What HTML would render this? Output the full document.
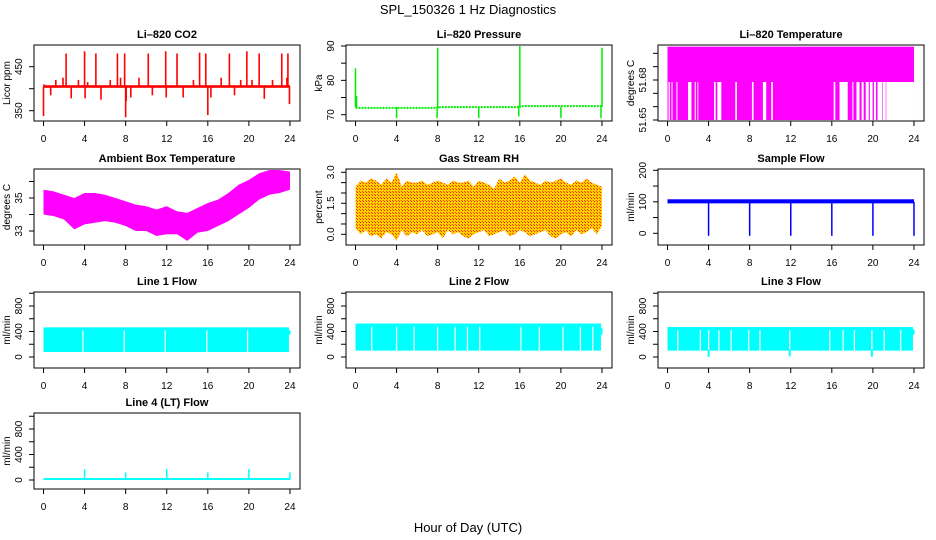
<!DOCTYPE html>
<html><head><meta charset="utf-8"><style>
html,body{margin:0;padding:0;background:#fff;}
svg{display:block;font-family:"Liberation Sans",Arial,sans-serif;}
.tk{font-size:10px;fill:#000;}
.ttl{font-size:11px;font-weight:bold;fill:#000;}
</style></head><body>
<svg id="chart" width="936" height="540" viewBox="0 0 936 540" xmlns="http://www.w3.org/2000/svg">
<defs>
<pattern id="rhpat" width="3" height="3" patternUnits="userSpaceOnUse">
<rect width="3" height="3" fill="#ffd000"/><rect width="1" height="1" fill="#ff2000"/><rect x="2" y="2" width="1" height="1" fill="#ff4000"/>
</pattern>
</defs>
<text x="468" y="14" text-anchor="middle" font-size="13">SPL_150326  1 Hz Diagnostics</text>
<text x="468" y="532" text-anchor="middle" font-size="13">Hour of Day (UTC)</text>
</svg>
<script>
// ---- data ----
const hourTicks = [0,4,8,12,16,20,24];
// CO2
const co2Base = [402, 408];
const co2SpikeHours = [0.0,0.05,0.7,1.2,1.9,2.2,2.7,3.4,4.0,4.05,4.3,5.1,5.6,6.5,7.2,7.5,7.9,8.0,8.05,8.5,9.3,10.2,10.6,11.9,11.95,13.0,13.6,14.6,15.2,15.8,16.0,16.3,17.3,18.1,18.6,19.2,19.8,20.3,21.0,21.5,22.3,23.2,23.7,23.8,23.95];
const co2SpikeVals =  [338,410,385,420,425,480,378,420,485,378,415,480,375,420,480,425,480,335,372,380,425,480,385,485,380,480,380,420,482,480,340,380,425,480,385,420,485,420,480,377,420,480,425,480,365];
// Pressure
const presBaseHours = [0,8,8,16,16,24];
const presBaseVals = [72.0,72.0,72.2,72.2,72.5,72.5];
const presSpikeHours = [0.0,0.1,4.0,8.0,7.95,12.0,15.9,16.0,20.0,23.9,24.0];
const presSpikeVals = [83.5,75.5,69.0,89.5,69.0,69.0,69.5,90.0,69.0,69.0,89.5];
// Li-820 temperature
const tempTop = 51.705, tempMid = 51.6785, tempLow = 51.65;
const tempGaps = [[0.10,0.23],[0.39,0.49],[0.87,0.97],[2.0,2.33],[2.65,2.75],[2.91,3.0],[4.53,4.69],[4.85,5.24],[6.6,6.76],[8.22,8.38],[9.29,9.61],[10.1,10.26],[16.18,16.34],[16.75,17.55],[18.0,18.1],[18.4,18.7],[18.9,19.1],[19.3,19.6],[19.7,19.97],[20.1,20.3],[20.45,20.9],[20.95,21.25],[21.3,24.0]];
// Ambient box temperature (hourly envelope)
const ambHi = [35.5,35.4,35.2,35.0,35.3,35.3,35.2,35.0,34.8,34.6,34.5,34.3,34.5,34.2,34.1,34.4,34.7,34.9,35.3,35.8,36.1,36.5,36.7,36.7,36.6];
const ambLo = [34.0,33.9,33.7,33.1,33.4,33.5,33.6,33.5,33.3,33.0,33.0,32.7,32.8,32.8,32.4,32.9,33.0,33.3,33.6,34.0,34.4,34.9,35.2,35.3,35.5];
// Gas stream RH (half-hour envelope)
const rhHi = [2.3,2.6,2.5,2.7,2.6,2.4,2.7,2.5,3.0,2.3,2.6,2.5,2.5,2.6,2.4,2.5,2.6,2.5,2.4,2.6,2.5,2.5,2.6,2.3,2.6,2.5,2.4,2.2,2.7,2.5,2.6,2.8,2.5,2.9,2.6,2.5,2.4,2.6,2.5,2.6,2.7,2.5,2.4,2.6,2.5,2.7,2.5,2.4,2.3];
const rhLo = [0.3,0.0,0.2,-0.1,0.0,-0.2,0.1,0.0,-0.3,0.2,-0.1,0.1,0.0,0.2,-0.1,0.0,0.1,-0.2,0.2,0.0,0.1,-0.1,-0.2,0.0,0.1,0.2,-0.1,0.0,0.1,0.2,-0.1,0.0,0.2,0.1,-0.1,0.0,0.1,0.2,-0.1,-0.2,0.0,0.1,-0.1,0.2,0.0,0.1,0.3,0.0,0.4];
// Sample flow
const sfBand = [95, 108];
const sfDipHours = [4,8,12,16,20,24];
const sfDipVals = [-8,-8,-8,-8,-8,-8];
// Line flows
const l1Band = [78, 465];
const l1Gaps = [3.83,7.86,11.85,15.9,19.87];
const l2Band = [100, 525];
const l2Gaps = [1.58,4.0,5.7,8.0,9.7,10.9,12.1,16.1,17.9,20.2,21.9,23.1];
const l3Band = [100, 470];
const l3Gaps = [1.0,3.2,4.0,5.0,6.2,7.9,9.0,11.9,15.8,17.1,18.2,19.9,21.1,22.7];
const l3DipHours = [4.0,11.9,19.9];
const l3DipVals = [0,10,5];
const l4Base = [0, 30];
const l4SpikeHours = [4,8,12,16,20,24];
const l4SpikeVals = [170,120,170,120,170,120];

// ---- layout ----
const svg = document.getElementById('chart');
const NS = 'http://www.w3.org/2000/svg';
const colL = [34,346,658], rowT = [45,169,292,413], BW = 266, BH = 76;
function el(tag, attrs, parent){const e=document.createElementNS(NS,tag);for(const k in attrs)e.setAttribute(k,attrs[k]);(parent||svg).appendChild(e);return e;}

function makePanel(name, col, row, title, ylab, cal, yticks, ylabels){
  const L = colL[col], T = rowT[row];
  const g = el('g', {});
  
  
  const x = h => L + 9.5 + h * 10.27;
  const k = (cal[3]-cal[1])/(cal[2]-cal[0]);
  const y = v => cal[1] + (v - cal[0]) * k;
  const clipId = 'clip-' + name;
  const cp = el('clipPath', {id: clipId}, g);
  el('rect', {x: L, y: T, width: BW, height: BH}, cp);
  const plot = el('g', {'clip-path': 'url(#' + clipId + ')'}, g);
  
  
  const box = el('rect', {x: L, y: T, width: BW, height: BH, fill: 'none', stroke: '#000', 'stroke-width': 1}, g);
  
  
  const t = el('text', {x: L + BW/2, y: T - 7, 'text-anchor': 'middle', class: 'ttl'}, g);
  t.textContent = title;
  
  
  const xa = el('g', {}, g);
  
  
  const B = T + BH;
  el('line', {x1: x(0), x2: x(24), y1: B, y2: B, stroke: '#000'}, xa);
  hourTicks.forEach(h => {
    el('line', {x1: x(h), x2: x(h), y1: B, y2: B + 5, stroke: '#000'}, xa);
    const tl = el('text', {x: x(h), y: B + 21, 'text-anchor': 'middle', class: 'tk'}, xa);
    tl.textContent = h;
    
    
  });
  const ya = el('g', {}, g);
  
  
  el('line', {x1: L, x2: L, y1: y(yticks[0]), y2: y(yticks[yticks.length-1]), stroke: '#000'}, ya);
  yticks.forEach(v => el('line', {x1: L - 5, x2: L, y1: y(v), y2: y(v), stroke: '#000'}, ya));
  ylabels.forEach(v => {
    const yy = y(parseFloat(v));
    const tl = el('text', {x: L - 12, y: yy, 'text-anchor': 'middle', class: 'tk', transform: 'rotate(-90 ' + (L-12) + ' ' + yy + ')'}, ya);
    tl.textContent = v;
    
    
  });
  const yt = el('text', {x: L - 24, y: T + BH/2, 'text-anchor': 'middle', class: 'tk', transform: 'rotate(-90 ' + (L-24) + ' ' + (T+BH/2) + ')'}, g);
  yt.textContent = ylab;
  
  
  return {x, y, plot};
}
function vline(p, h, v1, v2, color, w, name){
  const l = el('line', {x1: p.x(h), x2: p.x(h), y1: p.y(v1), y2: p.y(v2), stroke: color, 'stroke-width': w || 1}, p.plot);
  
  
  return l;
}
function band(p, h1, h2, v1, v2, fill, name){
  const r = el('rect', {x: p.x(h1), y: Math.min(p.y(v1), p.y(v2)), width: p.x(h2) - p.x(h1), height: Math.abs(p.y(v2) - p.y(v1)), fill: fill}, p.plot);
  
  
  return r;
}
function envelope(p, hours, hi, lo, fill, name){
  let pts = hours.map((h,i) => p.x(h) + ',' + p.y(hi[i]));
  pts = pts.concat(hours.map((h,i) => p.x(h) + ',' + p.y(lo[i])).reverse());
  const pg = el('polygon', {points: pts.join(' '), fill: fill}, p.plot);
  
  
}

const pCo2 = makePanel('co2', 0, 0, 'Li\u2013820 CO2', 'Licor ppm', [350,110.7,450,66.7], [350,400,450], ['350','450']);
band(pCo2, 0, 24, co2Base[0], co2Base[1], '#ff0000', 'co2-baseline');
co2SpikeHours.forEach((h,i) => vline(pCo2, h, 405, co2SpikeVals[i], '#ff0000', 1.6, 'co2-spike'));

const pPres = makePanel('pressure', 1, 0, 'Li\u2013820 Pressure', 'kPa', [70,114.7,90,46], [70,75,80,85,90], ['70','80','90']);
const pl = el('polyline', {points: presBaseHours.map((h,i)=>pPres.x(h)+','+pPres.y(presBaseVals[i])).join(' '), fill: 'none', stroke: '#00ee00', 'stroke-width': 2, 'stroke-dasharray': '2 1'}, pPres.plot);


presSpikeHours.forEach((h,i) => vline(pPres, h, 72.2, presSpikeVals[i], '#00ee00', 1.5, 'pressure-spike'));

const pTemp = makePanel('li820-temp', 2, 0, 'Li\u2013820 Temperature', 'degrees C', [51.65,120,51.68,80], [51.65,51.66,51.67,51.68,51.69,51.70], ['51.65','51.68']);
band(pTemp, 0, 24, tempLow, tempTop, '#ff00ff', 'temp-band');
tempGaps.forEach(g2 => band(pTemp, g2[0], g2[1], tempLow - 0.01, tempMid, '#ffffff', 'temp-gap'));

const pAmb = makePanel('ambient-temp', 0, 1, 'Ambient Box Temperature', 'degrees C', [33,231,35,198], [33,34,35,36], ['33','35']);
envelope(pAmb, ambHi.map((v,i)=>i), ambHi, ambLo, '#ff00ff', 'ambient-series');

const pRh = makePanel('rh', 1, 1, 'Gas Stream RH', 'percent', [0,234.3,3,172.3], [0,0.5,1,1.5,2,2.5,3], ['0.0','1.5','3.0']);
envelope(pRh, rhHi.map((v,i)=>i*0.5), rhHi, rhLo, 'url(#rhpat)', 'rh-series');

const pSf = makePanel('sample-flow', 2, 1, 'Sample Flow', 'ml/min', [0,233.3,200,170.3], [0,50,100,150,200], ['0','100','200']);
band(pSf, 0, 24, sfBand[0], sfBand[1], '#0000ff', 'sample-flow-band');
sfDipHours.forEach((h,i) => vline(pSf, h, 100, sfDipVals[i], '#0000ff', 1.5, 'sample-flow-dip'));

const flowTicks = [0,200,400,600,800,1000], flowLabels = ['0','400','800'];
function linePanel(name, col, row, title, cal, bandV, gaps, endVal){
  const p = makePanel(name, col, row, title, 'ml/min', cal, flowTicks, flowLabels);
  band(p, 0, 23.9, bandV[0], bandV[1], '#00ffff', name + '-band');
  band(p, 23.9, 24.05, 350, endVal, '#00ffff', name + '-end');
  gaps.forEach(h => band(p, h - 0.06, h + 0.06, bandV[0] - 20, bandV[1] - 50, '#ffffff', name + '-gap'));
  return p;
}
linePanel('line1-flow', 0, 2, 'Line 1 Flow', [0,357,800,306], l1Band, l1Gaps, 420);
linePanel('line2-flow', 1, 2, 'Line 2 Flow', [0,357,800,306], l2Band, l2Gaps, 460);
const p3 = linePanel('line3-flow', 2, 2, 'Line 3 Flow', [0,357,800,306], l3Band, l3Gaps, 430);
l3DipHours.forEach((h,i) => vline(p3, h, 110, l3DipVals[i], '#00ffff', 2, 'line3-dip'));
const p4 = makePanel('line4-flow', 0, 3, 'Line 4 (LT) Flow', 'ml/min', [0,480,800,429], flowTicks, flowLabels);
band(p4, 0, 24, l4Base[0], l4Base[1], '#00ffff', 'line4-band');
l4SpikeHours.forEach((h,i) => vline(p4, h, 10, l4SpikeVals[i], '#00ffff', 1.5, 'line4-spike'));
</script>
</body></html>
